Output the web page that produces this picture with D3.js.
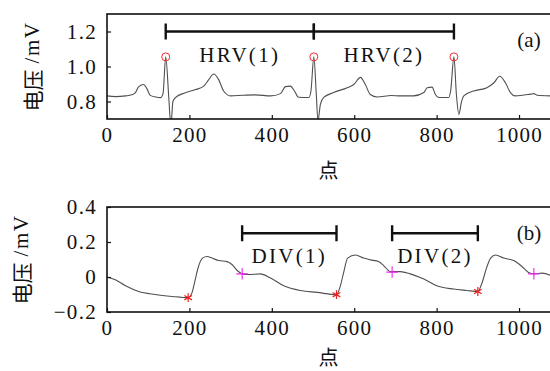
<!DOCTYPE html>
<html>
<head>
<meta charset="utf-8">
<script src="https://cdn.jsdelivr.net/npm/d3@7"></script>
<style>
  body { margin: 0; background: #fff; }
  text { font-family: "Liberation Serif", "Times New Roman", serif; fill: #111; }
  .cjk { font-family: "Noto Sans CJK SC", sans-serif; }
</style>
</head>
<body>
<div id="chart"></div>
<script>
// panel (a): ECG signal
const ecgX = [0, 20, 45, 60, 69, 77, 89, 97, 105, 118, 130, 136, 142.5, 150, 155, 160, 166, 190, 215, 235, 247, 259, 271, 283, 300, 330, 360,
  397, 421, 433, 445, 455, 465, 490, 495, 502, 508, 512, 518, 526, 550, 583, 599, 615, 627, 639, 656, 690, 712,
  744, 769, 777, 789, 797, 805, 829, 834, 842, 848, 854, 860, 866, 890, 922, 939, 953, 967, 979, 991, 1028, 1036, 1044, 1080];
const ecgY = [0.832, 0.828, 0.832, 0.838, 0.851, 0.885, 0.897, 0.872, 0.835, 0.826, 0.822, 0.845, 1.055, 0.82, 0.66, 0.80, 0.822, 0.85, 0.868, 0.888, 0.925, 0.957, 0.925, 0.86, 0.832, 0.836, 0.838,
  0.832, 0.845, 0.885, 0.888, 0.86, 0.824, 0.823, 0.86, 1.055, 0.84, 0.69, 0.785, 0.823, 0.851, 0.879, 0.897, 0.938, 0.897, 0.84, 0.826, 0.834, 0.832,
  0.832, 0.851, 0.879, 0.882, 0.84, 0.823, 0.823, 0.86, 1.055, 0.84, 0.726, 0.795, 0.832, 0.86, 0.879, 0.907, 0.944, 0.907, 0.851, 0.832, 0.842, 0.845, 0.836, 0.832];
const rPeakX = [142.5, 502, 842];
const rPeakY = [1.055, 1.055, 1.055];
const hrvLabels = ['HRV(1)', 'HRV(2)'];
const hrvLevel = 1.2;

// panel (b): pulse signal
const pulseX = [0, 20, 45, 77, 117, 158, 197, 206, 214, 222, 232, 243, 255, 271, 291, 304, 316, 328, 344, 372,
  397, 429, 469, 510, 557, 566, 574, 584, 603, 623, 639, 659, 672, 688, 712,
  736, 769, 800, 841, 873, 900, 910, 921, 931, 943, 963, 987, 1007, 1023, 1036, 1056, 1080];
const pulseY = [0.0, -0.016, -0.05, -0.083, -0.1, -0.111, -0.118, -0.092, -0.016, 0.06, 0.108, 0.117, 0.108, 0.094, 0.088, 0.07, 0.037, 0.018, 0.014, 0.018,
  -0.006, -0.05, -0.077, -0.088, -0.101, -0.054, 0.022, 0.108, 0.126, 0.108, 0.098, 0.088, 0.064, 0.031, 0.031,
  0.018, -0.012, -0.05, -0.069, -0.077, -0.083, -0.035, 0.051, 0.108, 0.126, 0.108, 0.094, 0.06, 0.026, 0.018, 0.022, 0.006];
const valleyX = [197, 557, 900];
const valleyY = [-0.118, -0.101, -0.083];
const notchX = [328, 692, 1036];
const notchY = [0.018, 0.028, 0.018];
const divSpans = [[328, 557], [692, 900]];
const divLabels = ['DIV(1)', 'DIV(2)'];
const divLevel = 0.25;

const xTicks = [0, 200, 400, 600, 800, 1000];
const yTicksA = [0.8, 1.0, 1.2];
const yTickLabelsA = ['0.8', '1.0', '1.2'];
const yTicksB = [-0.2, 0, 0.2, 0.4];
const yTickLabelsB = ['\u22120.2', '0', '0.2', '0.4'];

const W = 550, H = 371;
const left = 107, plotW = 445;
const svg = d3.select('#chart').append('svg').attr('width', W).attr('height', H);

const x = d3.scaleLinear().domain([0, 1080]).range([left, left + plotW]);

function panel(cfg) {
  const y = d3.scaleLinear().domain(cfg.yDomain).range([cfg.top + cfg.h, cfg.top]);
  const g = svg.append('g');

  g.append('clipPath').attr('id', cfg.id)
    .append('rect').attr('x', left).attr('y', cfg.top).attr('width', plotW).attr('height', cfg.h);

  const line = d3.line().x(d => x(d[0])).y(d => y(d[1])).curve(d3.curveMonotoneX);
  g.append('path')
    .datum(d3.zip(cfg.sx, cfg.sy))
    .attr('clip-path', `url(#${cfg.id})`)
    .attr('fill', 'none')
    .attr('stroke', '#505050')
    .attr('stroke-width', 1.1)
    .attr('d', line);

  // axes, ticks pointing inward
  const xAxis = g.append('g').attr('transform', `translate(0,${cfg.top + cfg.h})`)
    .call(d3.axisBottom(x).tickValues(xTicks).tickFormat(d3.format('d'))
      .tickSizeInner(-4).tickSizeOuter(0).tickPadding(8));
  const yAxis = g.append('g').attr('transform', `translate(${left},0)`)
    .call(d3.axisLeft(y).tickValues(cfg.yTicks).tickFormat((d, i) => cfg.yLabels[i])
      .tickSizeInner(-4).tickSizeOuter(0).tickPadding(10));
  [xAxis, yAxis].forEach(a => {
    a.select('.domain').remove();
    a.selectAll('line').attr('stroke', '#111').attr('stroke-width', 1.2);
    a.selectAll('text').style('font-size', '21px').style('letter-spacing', '1.3px')
      .style('font-family', '"Liberation Serif", serif').attr('fill', '#111');
  });

  g.append('rect')
    .attr('x', left).attr('y', cfg.top).attr('width', plotW).attr('height', cfg.h)
    .attr('fill', 'none').attr('stroke', '#111').attr('stroke-width', 1.6);

  // y label
  const yl = g.append('text')
    .attr('transform', `translate(${cfg.ylx},${cfg.top + cfg.h / 2}) rotate(-90)`)
    .attr('text-anchor', 'middle').attr('dominant-baseline', 'central')
    .style('font-size', '21px');
  yl.append('tspan').attr('class', 'cjk').text('电压');
  yl.append('tspan').attr('dx', 6).text('/mV').style('letter-spacing', '1.5px');

  // x label
  g.append('text').attr('class', 'cjk')
    .attr('x', left + plotW / 2 - 1).attr('y', cfg.top + cfg.h + cfg.xly)
    .attr('text-anchor', 'middle').attr('dominant-baseline', 'central')
    .style('font-size', '20px').text('点');

  g.append('text')
    .attr('x', 529).attr('y', cfg.top + 26)
    .attr('text-anchor', 'middle').attr('dominant-baseline', 'central')
    .style('font-size', '21px').text(cfg.tag);

  return { g, y };
}

function spanBar(g, y, x0, x1, level, label) {
  const yy = y(level);
  g.append('line').attr('x1', x(x0)).attr('x2', x(x1)).attr('y1', yy).attr('y2', yy)
    .attr('stroke', '#111').attr('stroke-width', 2.6);
  [x0, x1].forEach(v => {
    g.append('line').attr('x1', x(v)).attr('x2', x(v)).attr('y1', yy - 8).attr('y2', yy + 8)
      .attr('stroke', '#111').attr('stroke-width', 2.4);
  });
  g.append('text')
    .attr('x', (x(x0) + x(x1)) / 2).attr('y', yy + 23)
    .attr('text-anchor', 'middle').attr('dominant-baseline', 'central')
    .style('font-size', '21px').style('letter-spacing', '2.3px').text(label);
}

// (a)
const a = panel({ id: 'clipA', top: 14, h: 105, yDomain: [0.7, 1.3], yTicks: yTicksA, yLabels: yTickLabelsA,
  sx: ecgX, sy: ecgY, ylx: 32, xly: 50, tag: '(a)' });
for (let i = 0; i < rPeakX.length - 1; i++) {
  spanBar(a.g, a.y, rPeakX[i], rPeakX[i + 1], hrvLevel, hrvLabels[i]);
}
a.g.selectAll('circle.peak').data(d3.zip(rPeakX, rPeakY)).join('circle')
  .attr('class', 'peak')
  .attr('cx', d => x(d[0])).attr('cy', d => a.y(d[1])).attr('r', 4)
  .attr('fill', 'none').attr('stroke', '#f03030').attr('stroke-width', 1);

// (b)
const b = panel({ id: 'clipB', top: 207, h: 105, yDomain: [-0.2, 0.4], yTicks: yTicksB, yLabels: yTickLabelsB,
  sx: pulseX, sy: pulseY, ylx: 21, xly: 44, tag: '(b)' });
divSpans.forEach((s, i) => spanBar(b.g, b.y, s[0], s[1], divLevel, divLabels[i]));

const star = d3.symbol().type(d3.symbolAsterisk).size(55);
b.g.selectAll('path.valley').data(d3.zip(valleyX, valleyY)).join('path')
  .attr('class', 'valley')
  .attr('transform', d => `translate(${x(d[0])},${b.y(d[1])})`)
  .attr('d', star).attr('fill', 'none').attr('stroke', '#f02020').attr('stroke-width', 1.2);
const plus = d3.symbol().type(d3.symbolPlus).size(45);
b.g.selectAll('path.notch').data(d3.zip(notchX, notchY)).join('path')
  .attr('class', 'notch')
  .attr('transform', d => `translate(${x(d[0])},${b.y(d[1])})`)
  .attr('d', plus).attr('fill', 'none').attr('stroke', '#f020f0').attr('stroke-width', 1.1);
</script>
</body>
</html>
